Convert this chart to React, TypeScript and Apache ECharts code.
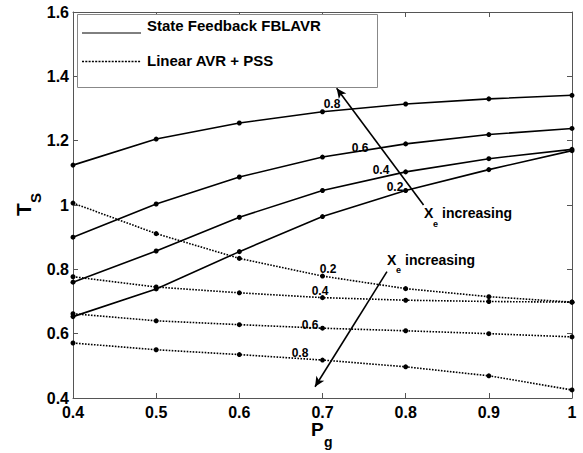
import React, { useEffect, useRef } from "react";
import * as echarts from "echarts";

const pgValues = [0.4, 0.5, 0.6, 0.7, 0.8, 0.9, 1.0];

// State Feedback FBLAVR (solid), by Xe
const fbl02 = [0.653, 0.739, 0.855, 0.964, 1.045, 1.11, 1.169];
const fbl04 = [0.76, 0.857, 0.962, 1.045, 1.103, 1.144, 1.173];
const fbl06 = [0.9, 1.003, 1.087, 1.149, 1.19, 1.219, 1.238];
const fbl08 = [1.124, 1.205, 1.255, 1.29, 1.314, 1.33, 1.341];

// Linear AVR + PSS (dotted), by Xe
const pss02 = [1.006, 0.911, 0.834, 0.779, 0.74, 0.715, 0.698];
const pss04 = [0.777, 0.745, 0.727, 0.712, 0.704, 0.7, 0.698];
const pss06 = [0.662, 0.64, 0.628, 0.617, 0.609, 0.6, 0.59];
const pss08 = [0.571, 0.55, 0.535, 0.518, 0.497, 0.469, 0.425];

const xTicks = [0.4, 0.5, 0.6, 0.7, 0.8, 0.9, 1.0];
const yTicks = [0.4, 0.6, 0.8, 1.0, 1.2, 1.4, 1.6];

// arrows in data coordinates: [tailX, tailY, headX, headY]
const arrowUp = [0.8215, 1.0, 0.717, 1.363];
const arrowDown = [0.7775, 0.793, 0.691, 0.435];

const FONT = "'Liberation Sans', Arial, Helvetica, sans-serif";

function fmt(v: number) {
  if (Math.abs(v - 1) < 1e-9) return "1";
  return (Math.round(v * 10) / 10).toFixed(1);
}

export default function App() {
  const ref = useRef<HTMLDivElement>(null);
  useEffect(() => {
    if (!ref.current) return;
    const chart = echarts.init(ref.current, undefined, { renderer: "svg" });

    const toData = (ys: number[]) => pgValues.map((x, i) => [x, ys[i]]);
    const solid = (name: string, ys: number[]) => ({
      name,
      type: "line",
      data: toData(ys),
      symbol: "circle",
      symbolSize: 5,
      itemStyle: { color: "#000" },
      lineStyle: { color: "#000", width: 1.6, type: "solid" },
      silent: true,
      z: 3,
    });
    const dotted = (name: string, ys: number[]) => ({
      name,
      type: "line",
      data: toData(ys),
      symbol: "circle",
      symbolSize: 5,
      itemStyle: { color: "#000" },
      lineStyle: { color: "#000", width: 1.6, type: [1.6, 1.4] },
      silent: true,
      z: 3,
    });

    const arrowSeries = {
      type: "line",
      data: [],
      silent: true,
      markLine: {
        silent: true,
        symbol: ["none", "arrow"],
        symbolSize: [7, 10],
        label: { show: false },
        lineStyle: { color: "#000", width: 1.6, type: "solid" },
        data: [
          [
            { coord: [arrowUp[0], arrowUp[1]] },
            { coord: [arrowUp[2], arrowUp[3]] },
          ],
          [
            { coord: [arrowDown[0], arrowDown[1]] },
            { coord: [arrowDown[2], arrowDown[3]] },
          ],
        ],
      },
    };

    const axisLineColor = "#555";
    const lbl = (text: string, x: number, y: number, size = 12) => ({
      type: "text",
      x,
      y,
      style: {
        text,
        font: `bold ${size}px ${FONT}`,
        fill: "#000",
        align: "center",
        verticalAlign: "middle",
      },
      z: 10,
    });

    const option: any = {
      animation: false,
      backgroundColor: "#fff",
      grid: { left: 73, right: 11, top: 12, bottom: 55, containLabel: false },
      xAxis: [
        {
          type: "value",
          min: 0.4,
          max: 1.0,
          interval: 0.1,
          axisLine: { show: true, lineStyle: { color: axisLineColor, width: 1 } },
          axisTick: { show: true, inside: true, length: 5, lineStyle: { color: axisLineColor } },
          splitLine: { show: false },
          axisLabel: {
            formatter: (v: number) => fmt(v),
            color: "#000",
            fontFamily: FONT,
            fontWeight: "bold",
            fontSize: 16,
            margin: 6,
          },
        },
        {
          type: "value",
          position: "top",
          min: 0.4,
          max: 1.0,
          interval: 0.1,
          axisLine: { show: true, onZero: false, lineStyle: { color: axisLineColor, width: 1 } },
          axisTick: { show: true, inside: true, length: 5, lineStyle: { color: axisLineColor } },
          splitLine: { show: false },
          axisLabel: { show: false },
        },
      ],
      yAxis: [
        {
          type: "value",
          min: 0.4,
          max: 1.6,
          interval: 0.2,
          axisLine: { show: true, lineStyle: { color: axisLineColor, width: 1 } },
          axisTick: { show: true, inside: true, length: 5, lineStyle: { color: axisLineColor } },
          splitLine: { show: false },
          axisLabel: {
            formatter: (v: number) => fmt(v),
            color: "#000",
            fontFamily: FONT,
            fontWeight: "bold",
            fontSize: 16,
            margin: 4,
          },
        },
        {
          type: "value",
          position: "right",
          min: 0.4,
          max: 1.6,
          interval: 0.2,
          axisLine: { show: true, onZero: false, lineStyle: { color: axisLineColor, width: 1 } },
          axisTick: { show: true, inside: true, length: 5, lineStyle: { color: axisLineColor } },
          splitLine: { show: false },
          axisLabel: { show: false },
        },
      ],
      series: [
        solid("FBLAVR Xe=0.2", fbl02),
        solid("FBLAVR Xe=0.4", fbl04),
        solid("FBLAVR Xe=0.6", fbl06),
        solid("FBLAVR Xe=0.8", fbl08),
        dotted("AVR+PSS Xe=0.2", pss02),
        dotted("AVR+PSS Xe=0.4", pss04),
        dotted("AVR+PSS Xe=0.6", pss06),
        dotted("AVR+PSS Xe=0.8", pss08),
        arrowSeries,
      ],
      graphic: [
        // legend box
        {
          type: "rect",
          shape: { x: 77.5, y: 14.5, width: 300, height: 73 },
          style: { fill: "#fff", stroke: "#888", lineWidth: 1 },
          z: 20,
        },
        {
          type: "line",
          shape: { x1: 82, y1: 33, x2: 141, y2: 33 },
          style: { stroke: "#000", lineWidth: 1 },
          z: 21,
        },
        {
          type: "text",
          x: 147,
          y: 25,
          style: {
            text: "State Feedback FBLAVR",
            font: `bold 15px ${FONT}`,
            fill: "#000",
            align: "left",
            verticalAlign: "middle",
          },
          z: 21,
        },
        {
          type: "line",
          shape: { x1: 82, y1: 61.5, x2: 141, y2: 61.5 },
          style: { stroke: "#000", lineWidth: 1.5, lineDash: [2, 1.3] },
          z: 21,
        },
        {
          type: "text",
          x: 147,
          y: 60,
          style: {
            text: "Linear AVR + PSS",
            font: `bold 15px ${FONT}`,
            fill: "#000",
            align: "left",
            verticalAlign: "middle",
          },
          z: 21,
        },
        // curve labels (solid)
        lbl("0.8", 332, 103.5),
        lbl("0.6", 360, 148),
        lbl("0.4", 381, 170),
        lbl("0.2", 395, 187),
        // curve labels (dotted)
        lbl("0.2", 328, 269),
        lbl("0.4", 320, 291),
        lbl("0.6", 310, 325),
        lbl("0.8", 300, 353),
        // Xe increasing (upper)
        {
          type: "text",
          x: 424,
          y: 213,
          style: { text: "X", font: `bold 14px ${FONT}`, fill: "#000", align: "left", verticalAlign: "middle" },
          z: 10,
        },
        {
          type: "text",
          x: 433,
          y: 223.5,
          style: { text: "e", font: `bold 9px ${FONT}`, fill: "#000", align: "left", verticalAlign: "middle" },
          z: 10,
        },
        {
          type: "text",
          x: 442,
          y: 213,
          style: { text: "increasing", font: `bold 14px ${FONT}`, fill: "#000", align: "left", verticalAlign: "middle" },
          z: 10,
        },
        // Xe increasing (lower)
        {
          type: "text",
          x: 387,
          y: 260,
          style: { text: "X", font: `bold 14px ${FONT}`, fill: "#000", align: "left", verticalAlign: "middle" },
          z: 10,
        },
        {
          type: "text",
          x: 396,
          y: 270,
          style: { text: "e", font: `bold 9px ${FONT}`, fill: "#000", align: "left", verticalAlign: "middle" },
          z: 10,
        },
        {
          type: "text",
          x: 405,
          y: 260,
          style: { text: "increasing", font: `bold 14px ${FONT}`, fill: "#000", align: "left", verticalAlign: "middle" },
          z: 10,
        },
        // x axis name P_g
        {
          type: "text",
          x: 311,
          y: 429,
          style: { text: "P", font: `bold 19px ${FONT}`, fill: "#000", align: "left", verticalAlign: "middle" },
          z: 10,
        },
        {
          type: "text",
          x: 324,
          y: 442,
          style: { text: "g", font: `bold 14px ${FONT}`, fill: "#000", align: "left", verticalAlign: "middle" },
          z: 10,
        },
        // y axis name T_s (rotated)
        {
          type: "text",
          x: 23,
          y: 216,
          rotation: Math.PI / 2,
          style: { text: "T", font: `bold 21px ${FONT}`, fill: "#000", align: "left", verticalAlign: "middle" },
          z: 10,
        },
        {
          type: "text",
          x: 35,
          y: 203,
          rotation: Math.PI / 2,
          style: { text: "S", font: `bold 15px ${FONT}`, fill: "#000", align: "left", verticalAlign: "middle" },
          z: 10,
        },
      ],
    };
    chart.setOption(option);
    return () => chart.dispose();
  }, []);

  return (
    <div
      ref={ref}
      style={{ position: "fixed", left: 0, top: 0, width: 583, height: 453, background: "#fff" }}
    />
  );
}
